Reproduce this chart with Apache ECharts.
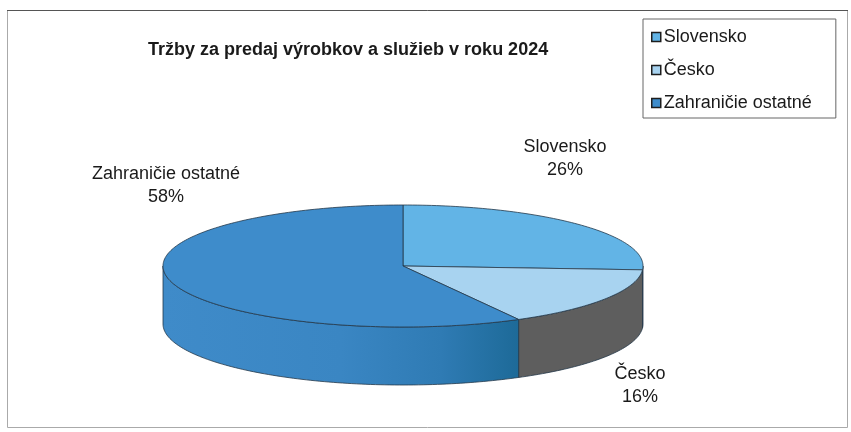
<!DOCTYPE html>
<html>
<head>
<meta charset="utf-8">
<script src="https://cdn.jsdelivr.net/npm/echarts@6/dist/echarts.min.js"></script>
<style>
  html, body { margin: 0; padding: 0; background: #fff; }
  #chart { width: 851px; height: 432px; }
</style>
</head>
<body>
<div id="chart"></div>
<script>
// data
const categories = ["Slovensko", "Česko", "Zahraničie ostatné"];
const values = [26, 16, 58];

// look
const topColors = ["#62b4e6", "#a8d3f0", "#3e8ccb"];
const sideColors = ["#4f9fd4", "#5e5e5e", "#3d89c7"];
const labelAt = [[565, 159], [640, 386], [166, 186]]; // label centres

// 3D pie geometry
const cx = 403, cy = 266, rx = 240, ry = 61, depth = 58;

const total = values.reduce((a, b) => a + b, 0);
const FONT = '"Liberation Sans", Arial, sans-serif';

function angles(i) {
  let s = 0;
  for (let k = 0; k < i; k++) s += values[k];
  return [(s / total) * Math.PI * 2, ((s + values[i]) / total) * Math.PI * 2];
}

function arcPts(a0, a1, dy) {
  const n = Math.max(2, Math.ceil(Math.abs(a1 - a0) / 0.02));
  const pts = [];
  for (let j = 0; j <= n; j++) {
    const a = a0 + ((a1 - a0) * j) / n;
    pts.push([cx + rx * Math.sin(a), cy + dy - ry * Math.cos(a)]);
  }
  return pts;
}

function sideFill(i) {
  if (i === 2) {
    return new echarts.graphic.LinearGradient(0, 0, 1, 0, [
      { offset: 0, color: "#3f8bc9" },
      { offset: 0.5, color: "#3a86c3" },
      { offset: 0.78, color: "#2f7bb4" },
      { offset: 1, color: "#1d6a98" },
    ]);
  }
  return sideColors[i];
}

function renderSlice(i) {
  return function (params, api) {
    const [s, e] = angles(i);
    const children = [];
    // visible front wall
    const a = Math.max(s, Math.PI / 2);
    const b = Math.min(e, Math.PI * 1.5);
    if (b > a) {
      children.push({
        type: "polygon",
        z2: 1,
        shape: { points: arcPts(a, b, 0).concat(arcPts(b, a, depth)) },
        style: { fill: sideFill(i), stroke: "#24384a", lineWidth: 0.8 },
      });
    }
    // top face
    children.push({
      type: "polygon",
      z2: 2,
      shape: { points: [[cx, cy]].concat(arcPts(s, e, 0)) },
      style: { fill: topColors[i], stroke: "#24384a", lineWidth: 0.8 },
    });
    // label
    const pct = Math.round((values[i] / total) * 100);
    children.push({
      type: "text",
      z2: 3,
      x: labelAt[i][0],
      y: labelAt[i][1],
      style: {
        text: categories[i] + "\n" + pct + "%",
        fill: "#1a1a1a",
        font: "18px " + FONT,
        lineHeight: 23,
        align: "center",
        verticalAlign: "middle",
      },
    });
    return { type: "group", children: children };
  };
}

const chart = echarts.init(document.getElementById("chart"));

chart.setOption({
  animation: false,
  backgroundColor: "#fff",
  title: {
    text: "Tržby za predaj výrobkov a služieb v roku 2024",
    left: 143,
    top: 36,
    textStyle: {
      fontFamily: FONT,
      fontSize: 18,
      fontWeight: "bold",
      color: "#1a1a1a",
    },
  },
  legend: {
    orient: "vertical",
    left: 643,
    top: 19,
    padding: [8, 24, 5, 8],
    itemGap: 13,
    itemWidth: 9,
    itemHeight: 9,
    icon: "rect",
    borderColor: "#666",
    borderWidth: 1,
    itemStyle: { borderColor: "#1e1e1e", borderWidth: 1.5 },
    textStyle: {
      fontFamily: FONT,
      fontSize: 18,
      color: "#1a1a1a",
      padding: [0, 0, 0, -2],
      lineHeight: 20,
    },
    data: categories,
  },
  graphic: [
    {
      type: "rect",
      shape: { x: 7.5, y: 10.5, width: 840, height: 417 },
      style: { fill: null, stroke: "#aaa", lineWidth: 1 },
    },
    {
      type: "line",
      shape: { x1: 7, y1: 10.5, x2: 848, y2: 10.5 },
      style: { stroke: "#555", lineWidth: 1 },
    },
  ],
  series: categories.map((name, i) => ({
    type: "custom",
    name: name,
    coordinateSystem: "none",
    silent: true,
    itemStyle: { color: topColors[i] },
    data: [values[i]],
    renderItem: renderSlice(i),
  })),
});
</script>
</body>
</html>
